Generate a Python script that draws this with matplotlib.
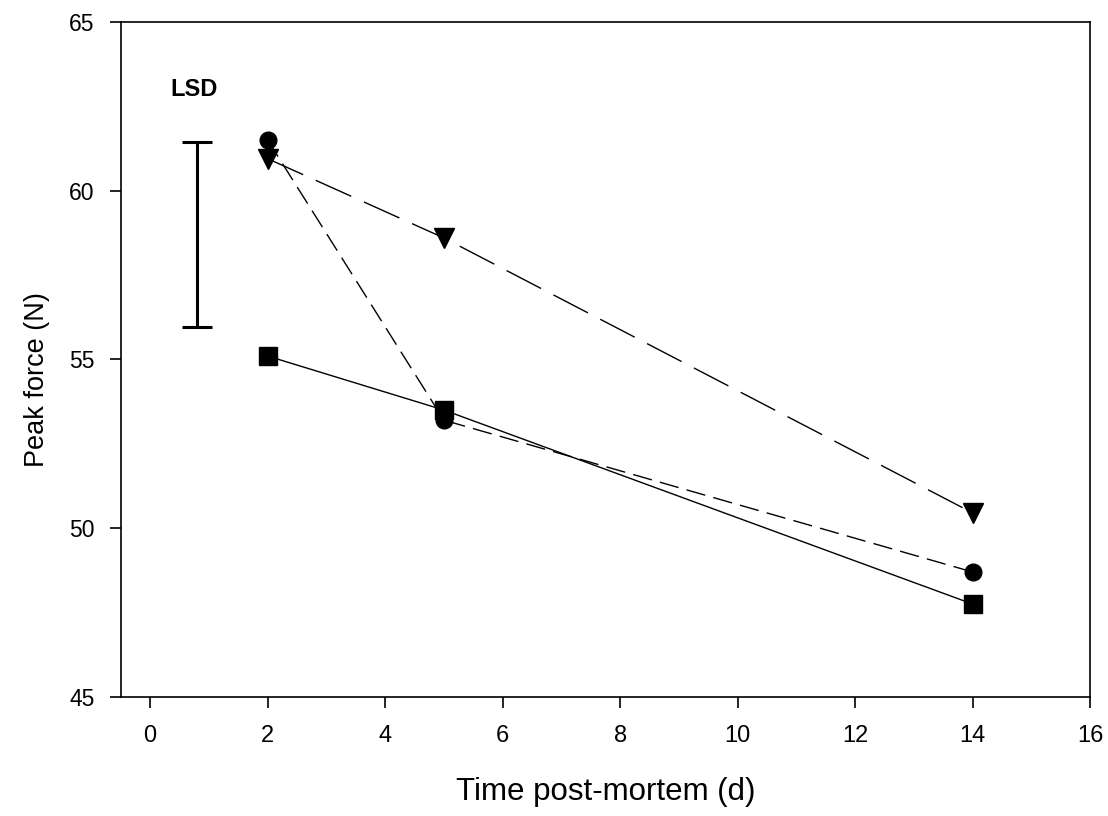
import matplotlib
matplotlib.use('Agg')
import matplotlib.pyplot as plt

plt.rcParams['font.family'] = ['Liberation Sans', 'DejaVu Sans']

days = [2, 5, 14]
circle_force = [61.5, 53.2, 48.7]
triangle_force = [60.95, 58.6, 50.45]
square_force = [55.1, 53.5, 47.75]

lsd_x = 0.8
lsd_low = 55.95
lsd_high = 61.45

xticks = [0, 2, 4, 6, 8, 10, 12, 14, 16]
yticks = [45, 50, 55, 60, 65]

fig = plt.figure(figsize=(11.08, 8.16), dpi=100)
ax = fig.add_axes([0.109, 0.146, 0.875, 0.827])

ax.plot(days, triangle_force, color='black', lw=1.0, dashes=(28, 10),
        marker='v', ms=14, mfc='black', mec='black')
ax.plot(days, circle_force, color='black', lw=1.0, dashes=(14, 6),
        marker='o', ms=12, mfc='black', mec='black')
ax.plot(days, square_force, color='black', lw=1.0, ls='-',
        marker='s', ms=12.5, mfc='black', mec='black')

# LSD bar
ax.errorbar([lsd_x], [(lsd_low + lsd_high) / 2],
            yerr=[[(lsd_high - lsd_low) / 2]], fmt='none', ecolor='black',
            elinewidth=2.2, capsize=11, capthick=2.2)
ax.text(lsd_x - 0.05, 63.0, 'LSD', ha='center', va='center', fontsize=17,
        fontweight='bold')

ax.set_xlim(-0.5, 16)
ax.set_ylim(45, 65)
ax.set_xticks(xticks)
ax.set_yticks(yticks)
ax.tick_params(axis='both', direction='out', length=8, width=1.2)
ax.tick_params(axis='x', labelsize=17, pad=12)
ax.tick_params(axis='y', labelsize=16.5, pad=11)
for sp in ax.spines.values():
    sp.set_linewidth(1.2)

ax.set_xlabel('Time post-mortem (d)', fontsize=22.5, labelpad=22)
ax.set_ylabel('Peak force (N)', fontsize=19.5)
ax.yaxis.set_label_coords(-0.073, 0.47)

fig.savefig('out.png', dpi=100)
